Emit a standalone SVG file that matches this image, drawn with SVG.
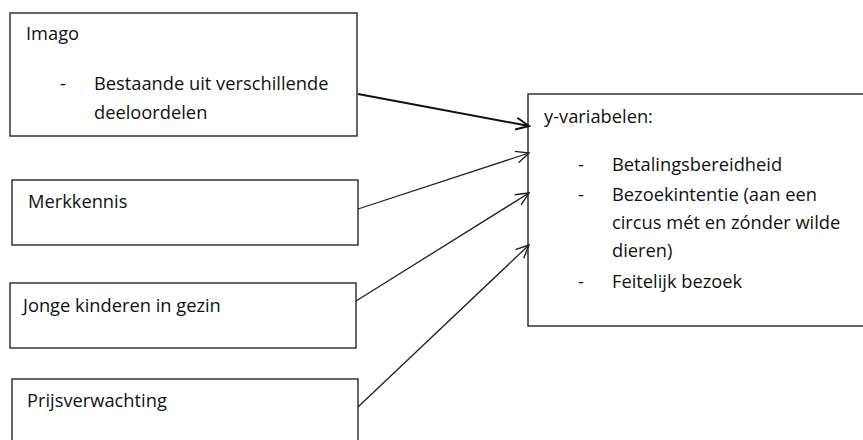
<svg xmlns="http://www.w3.org/2000/svg" width="863" height="440" viewBox="0 0 863 440">
<defs>
<style>
.box{fill:#fff;stroke:#333;stroke-width:1.5}
.t{font-family:"Open Sans","Liberation Sans",sans-serif;font-size:18.3px;fill:#111}
.c{fill:none;stroke:#222;stroke-width:1.3}
.c2{fill:none;stroke:#111;stroke-width:2}
</style>
<marker id="arr" markerUnits="userSpaceOnUse" markerWidth="16" markerHeight="16" refX="14" refY="7" orient="auto" viewBox="0 0 16 14">
<path d="M1,1 L14,7 L1,13" fill="none" stroke="#222" stroke-width="1.4"/>
</marker>
<marker id="arr2" markerUnits="userSpaceOnUse" markerWidth="16" markerHeight="16" refX="14" refY="7" orient="auto" viewBox="0 0 16 14">
<path d="M1,1 L14,7 L1,13" fill="none" stroke="#111" stroke-width="2"/>
</marker>
</defs>
<rect width="863" height="440" fill="#fff"/>
<g id="imago">
<rect class="box" x="10" y="13" width="347" height="123"/>
<text class="t" x="26" y="40">Imago</text>
<text class="t" x="60" y="90">-</text>
<text class="t" x="94" y="90">Bestaande uit verschillende</text>
<text class="t" x="94" y="119">deeloordelen</text>
</g>
<g id="merkkennis">
<rect class="box" x="12" y="180" width="346" height="65"/>
<text class="t" x="28" y="208">Merkkennis</text>
</g>
<g id="jonge">
<rect class="box" x="10" y="283" width="346" height="65"/>
<text class="t" x="23" y="312">Jonge kinderen in gezin</text>
</g>
<g id="prijs">
<rect class="box" x="12" y="379" width="346" height="70"/>
<text class="t" x="27" y="407">Prijsverwachting</text>
</g>
<g id="yvar">
<rect class="box" x="528" y="94" width="345" height="232"/>
<text class="t" x="544" y="123">y-variabelen:</text>
<text class="t" x="578" y="171">-</text>
<text class="t" x="612" y="171">Betalingsbereidheid</text>
<text class="t" x="578" y="201">-</text>
<text class="t" x="612" y="201">Bezoekintentie (aan een</text>
<text class="t" x="612" y="229">circus mét en zónder wilde</text>
<text class="t" x="612" y="257">dieren)</text>
<text class="t" x="578" y="288">-</text>
<text class="t" x="612" y="288">Feitelijk bezoek</text>
</g>
<g id="connectors">
<line class="c2" x1="358" y1="94" x2="529" y2="126" marker-end="url(#arr2)"/>
<line class="c" x1="358" y1="209" x2="529" y2="153" marker-end="url(#arr)"/>
<line class="c" x1="356" y1="301" x2="529" y2="193" marker-end="url(#arr)"/>
<line class="c" x1="358" y1="407" x2="529" y2="245" marker-end="url(#arr)"/>
</g>
</svg>
